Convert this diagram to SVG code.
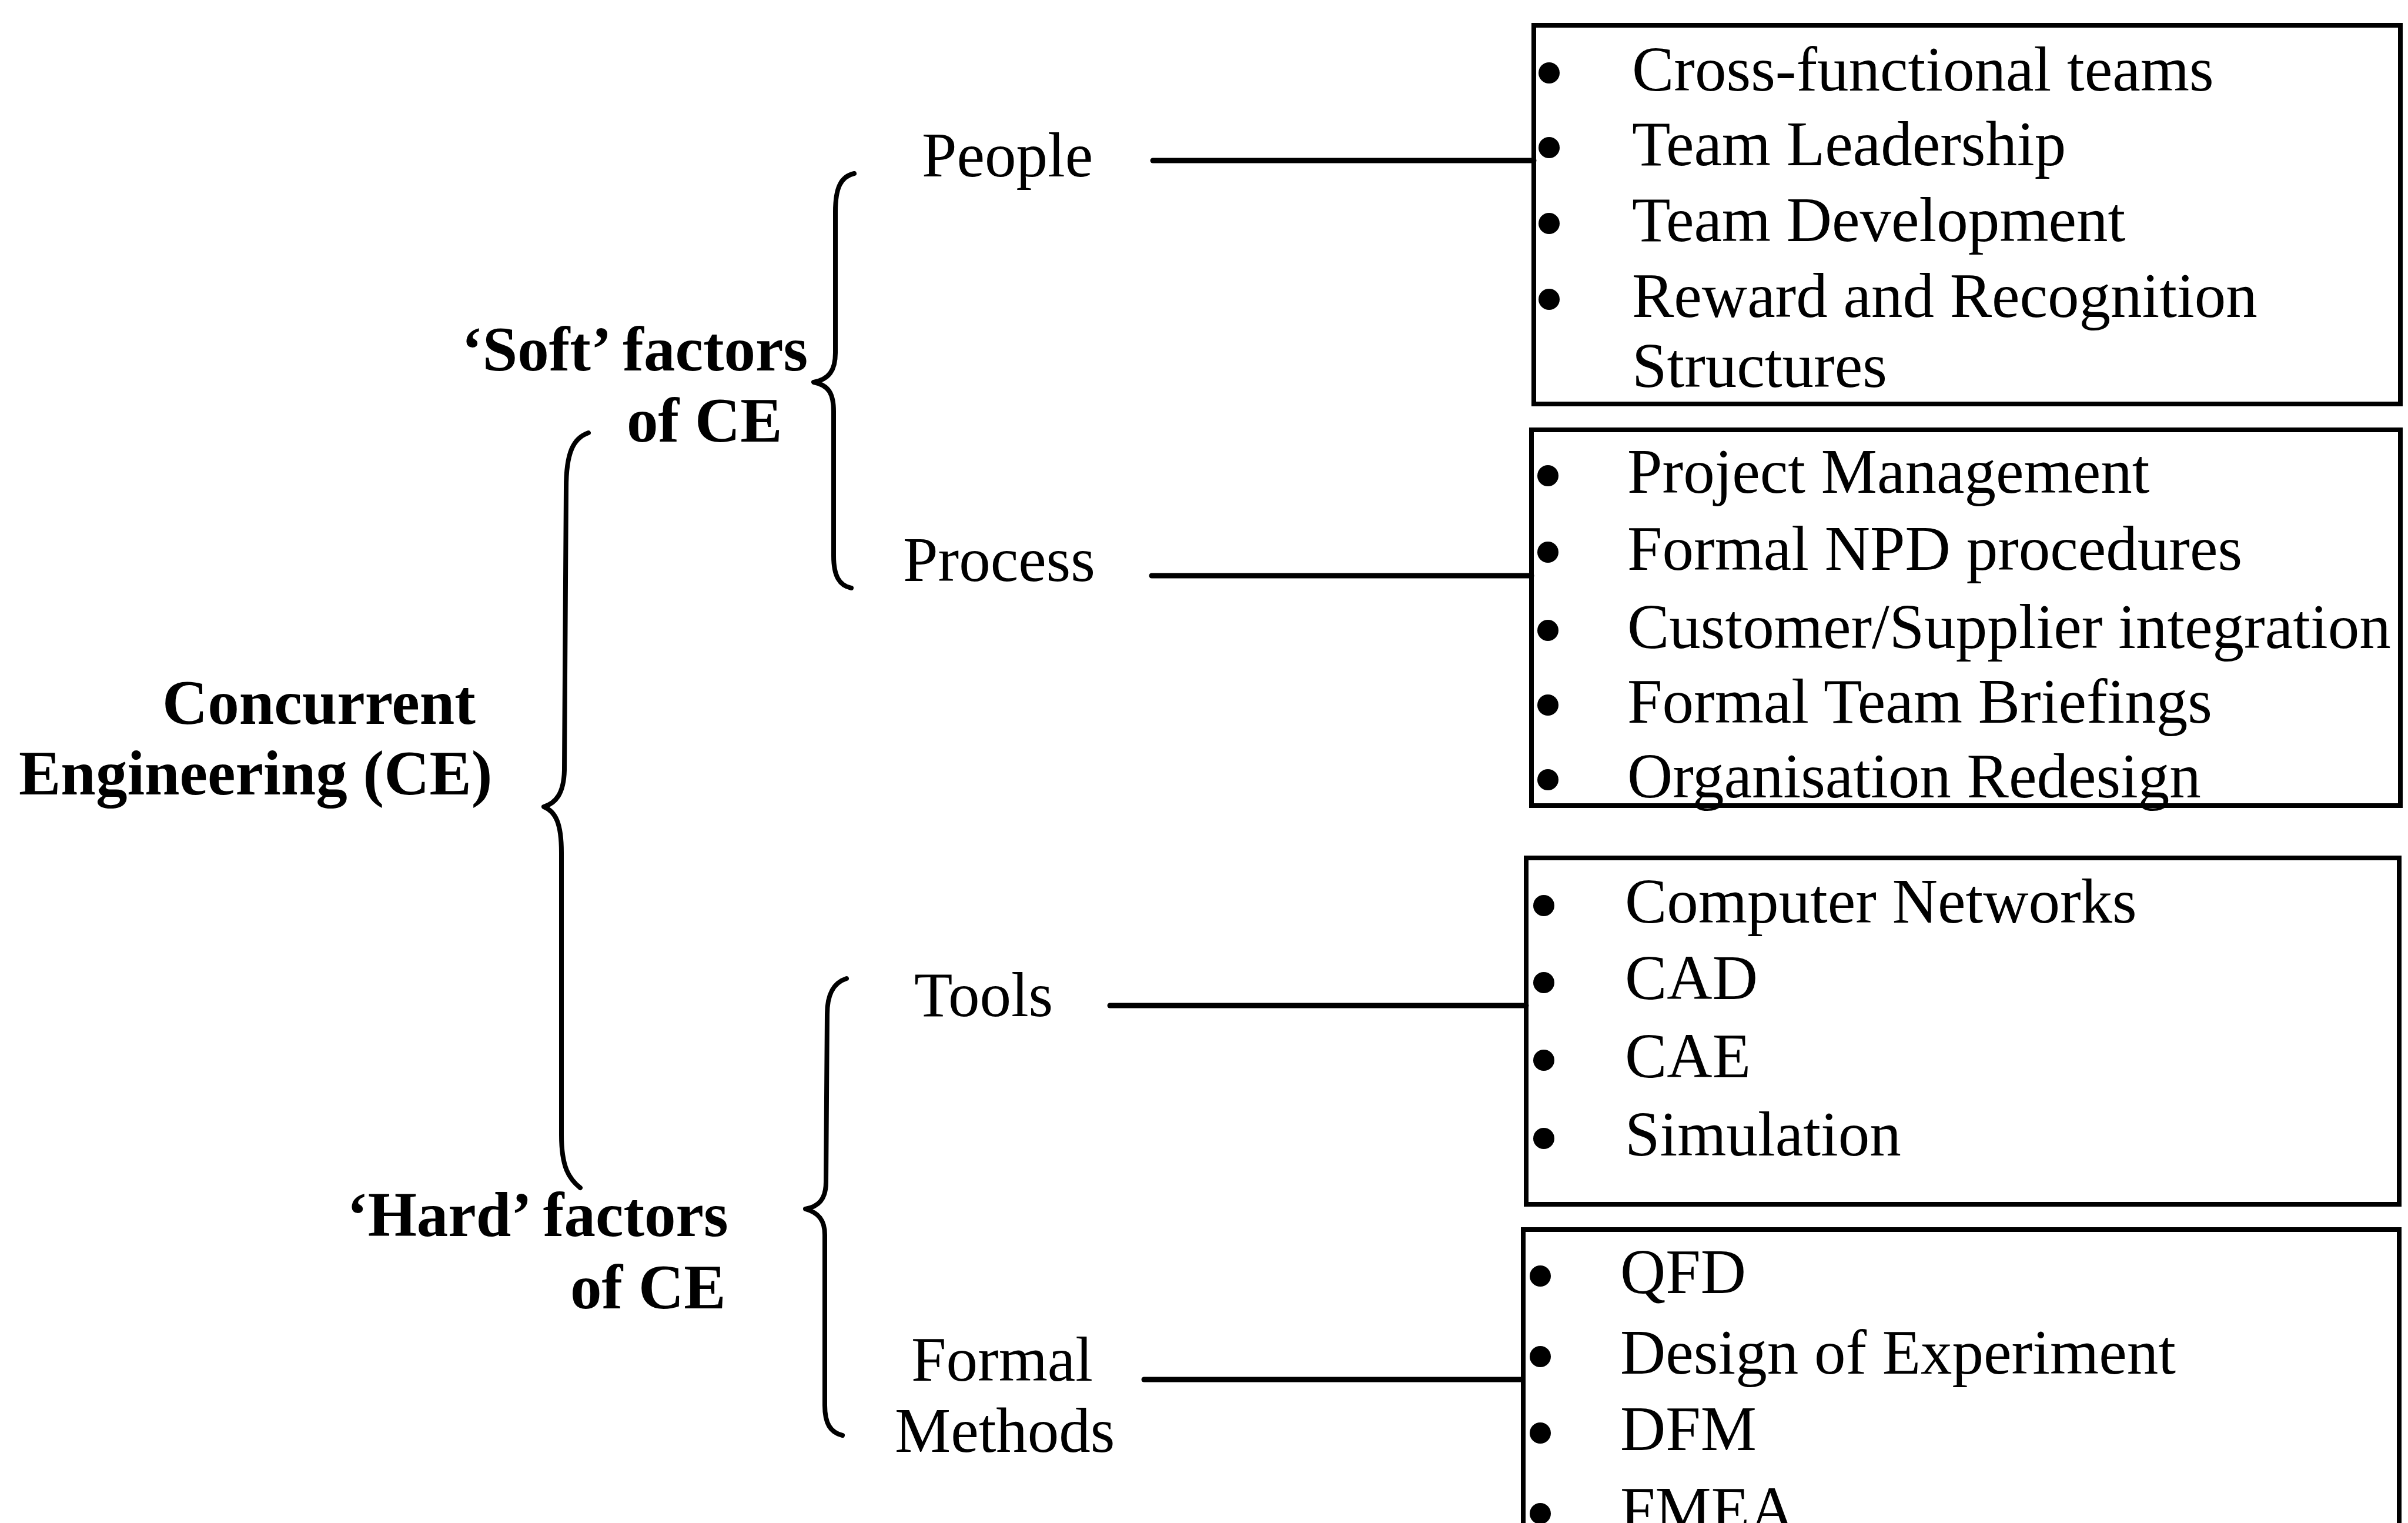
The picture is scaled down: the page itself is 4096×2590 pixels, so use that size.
<svg xmlns="http://www.w3.org/2000/svg" width="4096" height="2590" viewBox="0 0 4096 2590">
<style>
text{font-family:"Liberation Serif","Times New Roman",serif;font-size:107px;fill:#000}
.b{font-weight:bold}
.box{fill:none;stroke:#000;stroke-width:8}
.ln{stroke:#000;stroke-width:9;stroke-linecap:round;fill:none}
.br{stroke:#000;stroke-width:8;stroke-linecap:round;stroke-linejoin:round;fill:none}
.dot{fill:#000}
</style>
<rect width="4096" height="2590" fill="#fff"/>
<g id="connectors">
<path class="br" d="M1001,736 C975,745 963,770 963,830 L960,1310 C959,1350 945,1366 925,1372 C945,1380 955,1400 955,1450 L955,1930 C955,1985 968,2005 987,2020"/>
<path class="br" d="M1453,295 C1430,300 1421,320 1421,360 L1421,600 C1421,630 1410,645 1384,650 C1410,655 1418,670 1418,700 L1418,945 C1418,980 1428,996 1448,1000"/>
<path class="br" d="M1440,1664 C1415,1672 1407,1695 1407,1725 L1405,2010 C1405,2040 1392,2052 1370,2056 C1392,2062 1403,2075 1403,2100 L1403,2390 C1403,2420 1412,2436 1433,2441"/>
<line class="ln" x1="1961" y1="273" x2="2609" y2="273"/>
<line class="ln" x1="1959" y1="979" x2="2605" y2="979"/>
<line class="ln" x1="1888" y1="1710" x2="2596" y2="1710"/>
<line class="ln" x1="1946" y1="2346" x2="2590" y2="2346"/>
</g>
<g id="node-ce">
<text class="b" x="276" y="1231">Concurrent</text>
<text class="b" x="32" y="1351">Engineering (CE)</text>
</g>
<g id="node-soft">
<text class="b" x="785" y="630">‘Soft’ factors</text>
<text class="b" x="1066" y="751">of CE</text>
</g>
<g id="node-hard">
<text class="b" x="590" y="2102">‘Hard’ factors</text>
<text class="b" x="970" y="2225">of CE</text>
</g>
<g id="node-people"><text x="1568" y="300">People</text></g>
<g id="node-process"><text x="1536" y="988">Process</text></g>
<g id="node-tools"><text x="1555" y="1728">Tools</text></g>
<g id="node-formal">
<text x="1550" y="2348">Formal</text>
<text x="1522" y="2469">Methods</text>
</g>
<g id="box-people">
<rect class="box" x="2609" y="43" width="1474" height="644"/>
<circle class="dot" cx="2635" cy="124" r="18"/>
<circle class="dot" cx="2635" cy="251" r="18"/>
<circle class="dot" cx="2635" cy="380" r="18"/>
<circle class="dot" cx="2635" cy="509" r="18"/>
<text x="2776" y="154">Cross-functional teams</text>
<text x="2776" y="281">Team Leadership</text>
<text x="2776" y="410">Team Development</text>
<text x="2776" y="539">Reward and Recognition</text>
<text x="2776" y="658">Structures</text>
</g>
<g id="box-process">
<rect class="box" x="2605" y="731" width="1478" height="639"/>
<circle class="dot" cx="2633" cy="809" r="18"/>
<circle class="dot" cx="2633" cy="939" r="18"/>
<circle class="dot" cx="2633" cy="1072" r="18"/>
<circle class="dot" cx="2633" cy="1199" r="18"/>
<circle class="dot" cx="2633" cy="1326" r="18"/>
<text x="2768" y="838">Project Management</text>
<text x="2768" y="969">Formal NPD procedures</text>
<text x="2768" y="1102">Customer/Supplier integration</text>
<text x="2768" y="1229">Formal Team Briefings</text>
<text x="2768" y="1356">Organisation Redesign</text>
</g>
<g id="box-tools">
<rect class="box" x="2596" y="1459" width="1485" height="589"/>
<circle class="dot" cx="2626" cy="1540" r="18"/>
<circle class="dot" cx="2626" cy="1671" r="18"/>
<circle class="dot" cx="2626" cy="1803" r="18"/>
<circle class="dot" cx="2626" cy="1936" r="18"/>
<text x="2764" y="1569">Computer Networks</text>
<text x="2764" y="1699">CAD</text>
<text x="2764" y="1832">CAE</text>
<text x="2764" y="1965">Simulation</text>
</g>
<g id="box-formal">
<rect class="box" x="2591" y="2091" width="1490" height="560"/>
<circle class="dot" cx="2620" cy="2170" r="18"/>
<circle class="dot" cx="2620" cy="2307" r="18"/>
<circle class="dot" cx="2620" cy="2437" r="18"/>
<circle class="dot" cx="2620" cy="2574" r="18"/>
<text x="2756" y="2199">QFD</text>
<text x="2756" y="2336">Design of Experiment</text>
<text x="2756" y="2466">DFM</text>
<text x="2756" y="2603">FMEA</text>
</g>
</svg>
